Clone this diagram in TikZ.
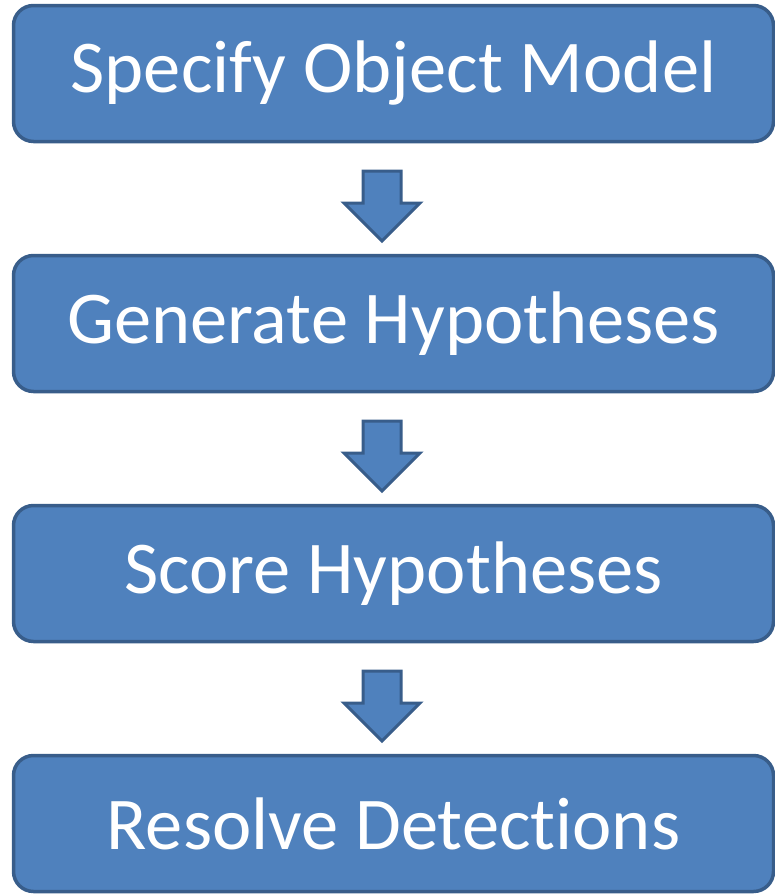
\documentclass[tikz,border=0pt]{standalone}
\usepackage{fontspec}
\setmainfont[Ligatures={NoCommon}]{Carlito}
\usetikzlibrary{positioning,calc}

\definecolor{boxfill}{HTML}{4F81BD}
\definecolor{boxline}{HTML}{385D8A}

\begin{document}
\begin{tikzpicture}[x=1pt, y=1pt, node distance=110.5pt,
            every node/.style={draw=boxline, fill=boxfill, line width=3.5pt,
                rounded corners=20pt, minimum width=760pt, minimum height=136pt,
                text=white, font=\fontsize{74.5}{89}\selectfont},
            blockarrow/.style={draw=boxline, fill=boxfill, line width=3pt, line join=miter}]
        \useasboundingbox (0,0) rectangle (775,-895);
        \node (spec) at (393.5,-73.5) {Specify Object Model};
        \node[below=of spec] (gen) {Generate Hypotheses};
        \node[below=of gen] (score) {Score Hypotheses};
        \node[below=of score] (res) {Resolve Detections};
        % block arrows between the steps
        \foreach \a/\b in {spec/gen, gen/score, score/res}
            \draw[blockarrow] ($(\a.south)!0.5!(\b.north)+(-11.5,-7.5)$)
                ++(-19,35) -- ++(38,0) -- ++(0,-32) -- ++(19,0)
                -- ++(-38,-38) -- ++(-38,38) -- ++(19,0) -- cycle;
\end{tikzpicture}
\end{document}
